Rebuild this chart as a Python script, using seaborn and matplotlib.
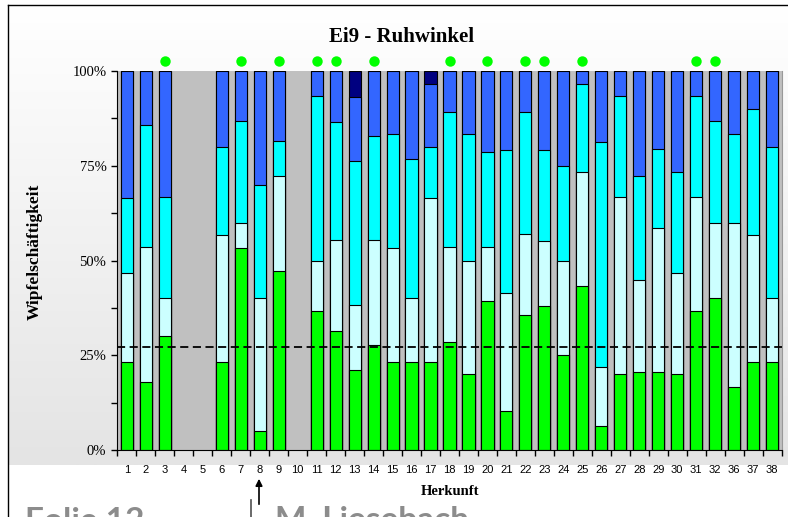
import numpy as np
import pandas as pd
import matplotlib.pyplot as plt
import seaborn as sns

# Herkunft-Nummern (4, 5 und 10 ohne Daten)
herkunft = ['1', '2', '3', '4', '5', '6', '7', '8', '9', '10', '11', '12', '13', '14', '15',
            '16', '17', '18', '19', '20', '21', '22', '23', '24', '25', '26', '27', '28', '29',
            '30', '31', '32', '36', '37', '38']

# Anteile der Wipfelschäftigkeits-Klassen in % (von unten nach oben)
gruen = [23.3, 17.9, 30.0, np.nan, np.nan, 23.3, 53.3, 5.0, 47.2, np.nan, 36.7, 31.5, 21.0, 27.8, 23.3,
         23.3, 23.3, 28.6, 20.0, 39.3, 10.3, 35.7, 37.9, 25.0, 43.3, 6.3, 20.0, 20.7, 20.7,
         20.0, 36.7, 40.0, 16.7, 23.3, 23.3]
hellcyan = [23.3, 35.7, 10.0, np.nan, np.nan, 33.3, 6.7, 35.0, 25.0, np.nan, 13.3, 23.8, 17.3, 27.5, 30.0,
            16.7, 43.3, 25.0, 30.0, 14.3, 31.0, 21.4, 17.2, 25.0, 30.0, 15.6, 46.7, 24.1, 37.9,
            26.7, 30.0, 20.0, 43.3, 33.3, 16.7]
cyan = [20.0, 32.1, 26.7, np.nan, np.nan, 23.3, 26.7, 30.0, 9.3, np.nan, 43.3, 31.2, 37.9, 27.6, 30.0,
        36.7, 13.3, 35.7, 33.3, 25.0, 37.9, 32.1, 24.1, 25.0, 23.3, 59.4, 26.6, 27.6, 20.7,
        26.7, 26.6, 26.7, 23.3, 33.3, 40.0]
blau = [33.4, 14.3, 33.3, np.nan, np.nan, 20.1, 13.3, 30.0, 18.5, np.nan, 6.7, 13.5, 17.0, 17.1, 16.7,
        23.3, 16.7, 10.7, 16.7, 21.4, 20.8, 10.8, 20.8, 25.0, 3.4, 18.7, 6.7, 27.6, 20.7,
        26.6, 6.7, 13.3, 16.7, 10.1, 20.0]
dunkelblau = [0, 0, 0, np.nan, np.nan, 0, 0, 0, 0, np.nan, 0, 0, 6.8, 0, 0,
              0, 3.4, 0, 0, 0, 0, 0, 0, 0, 0, 0, 0, 0, 0,
              0, 0, 0, 0, 0, 0]

# signifikante Herkünfte (grüne Punkte) und Mittelwert-Linie
markiert = ['3', '7', '9', '11', '12', '14', '18', '20', '22', '23', '25', '31', '32']
mittel = 27.2

df = pd.DataFrame({'Herkunft': herkunft, 'g': gruen, 'hc': hellcyan, 'c': cyan,
                   'b': blau, 'db': dunkelblau})
df['s_g'] = df['g']
df['s_hc'] = df['s_g'] + df['hc']
df['s_c'] = df['s_hc'] + df['c']
df['s_b'] = df['s_c'] + df['b']
df['s_db'] = df['s_b'] + df['db']

fig = plt.figure(figsize=(7.88, 5.17), dpi=100)

# Hintergrund mit Verlauf und Rahmen
bg = fig.add_axes([0, 0, 1, 1], zorder=-10)
bg.set_xlim(0, 788)
bg.set_ylim(517, 0)
bg.axis('off')
verlauf = np.linspace(0, 1, 200).reshape(-1, 1)
bg.imshow(verlauf, cmap=plt.matplotlib.colors.LinearSegmentedColormap.from_list('v', ['#ffffff', '#e4e4e4']),
          extent=[8, 800, 465, 5], aspect='auto', zorder=0)
bg.plot([8, 8], [5, 517], color='black', lw=1)
bg.plot([8, 800], [5, 5], color='black', lw=1)
bg.plot([251, 251], [500, 517], color='#505050', lw=1.2)
bg.annotate('', xy=(259, 476), xytext=(259, 507),
            arrowprops=dict(arrowstyle='-|>', color='black', lw=1.2, mutation_scale=10))
# Fußzeile der Folie (unten abgeschnitten wie im Original)
bg.text(25, 507, 'Folie 12', fontsize=24, fontweight='bold', color='#8c8c8c',
        family='Lato', va='top', ha='left')
bg.text(275, 506, 'M. Liesebach', fontsize=24, fontweight='bold', color='#8c8c8c',
        family='Lato', va='top', ha='left')

ax = fig.add_axes([117.5 / 788, 1 - 450 / 517, 664 / 788, 379 / 517])
ax.set_facecolor('#c0c0c0')

schichten = [('s_db', '#000080'), ('s_b', '#3366ff'), ('s_c', '#00ffff'),
             ('s_hc', '#ccffff'), ('s_g', '#00ff00')]
for spalte, farbe in schichten:
    sns.barplot(data=df, x='Herkunft', y=spalte, order=herkunft, color=farbe, saturation=1,
                width=0.64, edgecolor='black', linewidth=0.8, errorbar=None, ax=ax, zorder=2)

sns.stripplot(x=markiert, y=[102.6] * len(markiert), order=herkunft, jitter=False,
              color='#00ff00', size=7.5, linewidth=0, ax=ax, clip_on=False, zorder=5)

ax.axhline(mittel, color='black', linestyle=(0, (4.5, 2.5)), lw=1.3, zorder=4)

n = len(herkunft)
ax.set_xlim(-0.5, n - 0.5)
ax.set_ylim(0, 100)
ax.set_xticks(range(n))
ax.set_xticklabels(herkunft, family='Liberation Sans', fontsize=8)
ax.set_xticks(np.arange(n + 1) - 0.5, minor=True)
ax.tick_params(axis='x', which='major', length=0, pad=11)
ax.tick_params(axis='x', which='minor', length=4, width=1, direction='out')
ax.set_yticks([0, 25, 50, 75, 100])
ax.set_yticklabels(['0%', '25%', '50%', '75%', '100%'], family='Liberation Serif', fontsize=10.5)
ax.set_yticks([12.5, 37.5, 62.5, 87.5], minor=True)
ax.tick_params(axis='y', which='both', length=4, width=1, direction='out', pad=4)

ax.spines['top'].set_visible(False)
ax.spines['right'].set_color('#999999')
ax.spines['left'].set_color('black')
ax.spines['bottom'].set_color('black')

ax.set_xlabel('Herkunft', family='Liberation Serif', fontweight='bold', fontsize=10.5)
ax.xaxis.set_label_coords(0.5, -0.11)
ax.xaxis.label.set_va('center')
ax.set_ylabel('Wipfelschäftigkeit', family='Liberation Serif', fontweight='bold', fontsize=12.5)
ax.yaxis.set_label_coords(-0.124, 0.522)
ax.yaxis.label.set_va('center')

fig.text(401.5 / 788, 1 - 37 / 517, 'Ei9 - Ruhwinkel', family='Liberation Serif',
         fontweight='bold', fontsize=15, ha='center', va='center')

fig.savefig('out.png', dpi=100)
